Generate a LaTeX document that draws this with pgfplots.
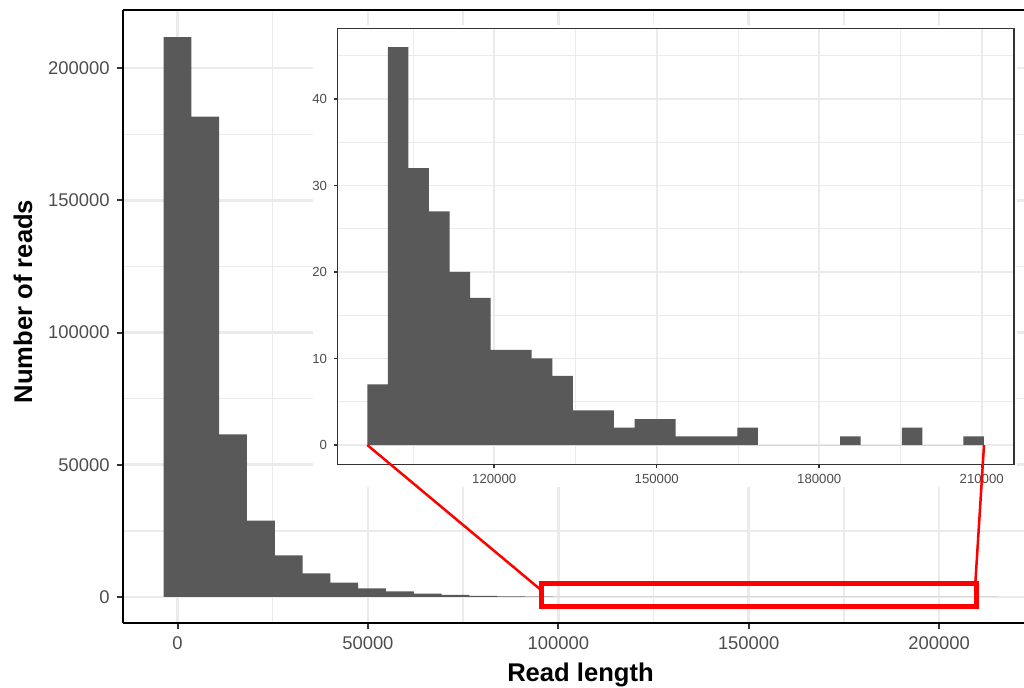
\documentclass[border=0pt]{standalone}
\usepackage{fontspec}
\setmainfont{Liberation Sans}
\usepackage{pgfplots}
\pgfplotsset{compat=1.18}
\definecolor{barfill}{HTML}{595959}
\definecolor{gridc}{HTML}{EBEBEB}
\definecolor{ticktxt}{HTML}{4D4D4D}
\definecolor{frame}{HTML}{333333}
\begin{document}
\begin{tikzpicture}[x=1pt,y=1pt]
\useasboundingbox (0,0) rectangle (512,343.5);
% main histogram (bin width 7300)
\begin{axis}[
  at={(61.35pt,31.85pt)}, anchor=south west, scale only axis,
  width=450.65pt, height=306.65pt,
  xmin=-14391, xmax=222295, ymin=-9950, ymax=222000,
  enlargelimits=false,
  axis x line*=box, axis y line*=left,
  axis line style={black, line width=1pt},
  tick align=outside, xtick pos=bottom, ytick pos=left,
  major tick length=3pt, minor tick length=0pt,
  tick style={frame, line width=1pt},
  xtick={0,50000,100000,150000,200000},
  minor xtick={25000,75000,125000,175000},
  ytick={0,50000,100000,150000,200000},
  minor ytick={25000,75000,125000,175000},
  grid=both,
  major grid style={gridc, line width=1.3pt},
  minor grid style={gridc, line width=0.65pt},
  scaled ticks=false,
  /pgf/number format/fixed, /pgf/number format/precision=0,
  /pgf/number format/assume math mode=true,
  /pgf/number format/1000 sep={},
  ticklabel style={font=\fontsize{9.2}{10}\selectfont, text=ticktxt},
  ybar, bar width=7300,
]
\addplot[fill=barfill, draw=none] coordinates {
  (0,211700)(7300,181650)(14600,61540)(21900,28860)(29200,15770)
  (36500,8960)(43800,5410)(51100,3290)(58400,2150)(65700,1250)
  (73000,760)(80300,420)(87600,230)(94900,120)(102200,75)
  (109500,55)(116800,40)(124100,30)(131400,22)(138700,10)
  (146000,8)(153300,4)(160600,3)(167900,3)(175200,0)
  (182500,1)(189800,0)(197100,2)(204400,0)(211700,1)};
\coordinate (rA) at (axis cs:95457,4917);
\coordinate (rB) at (axis cs:209690,-3782);
\coordinate (rL) at (axis cs:95457,2650);
\coordinate (rR) at (axis cs:209500,4917);
\end{axis}
\fill[white] (156.35,100) rectangle (508.5,331);
% inset: reads above 95 kb (bin width 3795)
\begin{axis}[
  at={(168.65pt,111.35pt)}, anchor=south west, scale only axis,
  width=338.35pt, height=218pt,
  xmin=91034, xmax=215963, ymin=-2.23, ymax=48.17,
  enlargelimits=false,
  axis background/.style={fill=white},
  axis line style={frame, line width=0.75pt},
  tick align=outside, tick pos=left,
  major tick length=1.6pt, minor tick length=0pt,
  tick style={frame, line width=0.75pt},
  xtick={120000,150000,180000,210000},
  minor xtick={105000,135000,165000,195000},
  ytick={0,10,20,30,40},
  minor ytick={5,15,25,35,45},
  grid=both,
  major grid style={gridc, line width=0.8pt},
  minor grid style={gridc, line width=0.4pt},
  scaled ticks=false,
  /pgf/number format/fixed, /pgf/number format/precision=0,
  /pgf/number format/assume math mode=true,
  /pgf/number format/1000 sep={},
  ticklabel style={font=\fontsize{6.6}{7}\selectfont, text=ticktxt},
  ybar, bar width=3795,
]
\addplot[fill=barfill, draw=none] coordinates {
  (98467.5,7)(102262.5,46)(106057.5,32)(109852.5,27)(113647.5,20)
  (117442.5,17)(121237.5,11)(125032.5,11)(128827.5,10)(132622.5,8)
  (136417.5,4)(140212.5,4)(144007.5,2)(147802.5,3)(151597.5,3)
  (155392.5,1)(159187.5,1)(162982.5,1)(166777.5,2)(170572.5,0)
  (174367.5,0)(178162.5,0)(181957.5,0)(185752.5,1)(189547.5,0)
  (193342.5,0)(197137.5,2)(200932.5,0)(204727.5,0)(208522.5,1)};
\coordinate (iL) at (axis cs:96570,0);
\coordinate (iR) at (axis cs:210425,0);
\end{axis}
\draw[red, line width=1.25pt] (iL) -- (rL);
\draw[red, line width=1.25pt] (iR) -- (rR);
\draw[red, line width=2.5pt] (rA) rectangle (rB);
\node[font=\fontsize{12.8}{14}\selectfont\bfseries, anchor=base] at (290.25,3) {Read length};
\node[font=\fontsize{12.8}{14}\selectfont\bfseries, rotate=90, anchor=center] at (11.5,192.75) {Number of reads};
\end{tikzpicture}
\end{document}
